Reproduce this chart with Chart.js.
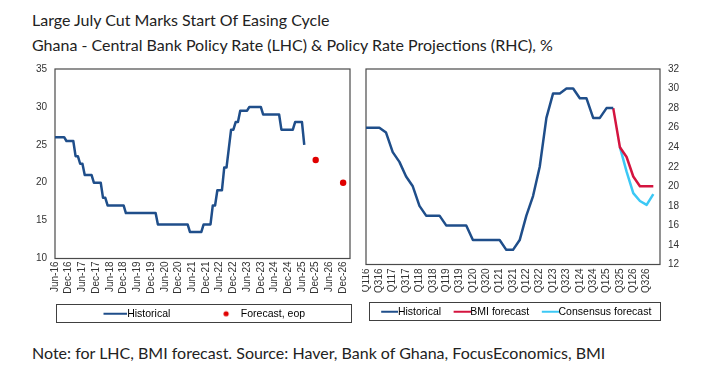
<!DOCTYPE html>
<html>
<head>
<meta charset="utf-8">
<script src="https://cdn.jsdelivr.net/npm/chart.js@4"></script>
<style>
  body { margin: 0; background: #fff; width: 728px; height: 378px; overflow: hidden; position: relative; font-family: Lato, "Open Sans", sans-serif; }
  .txt { position: absolute; left: 32px; font-size: 16px; color: #222; white-space: nowrap; line-height: 20px; }
  #title { top: 10px; }
  #subtitle { top: 35px; }
  #note { top: 343px; }
  .box { position: absolute; top: 55px; }
  #leftBox { left: 20px; width: 340px; height: 274px; }
  #rightBox { left: 362px; width: 366px; height: 272px; }
</style>
</head>
<body>
<div class="txt" id="title">Large July Cut Marks Start Of Easing Cycle</div>
<div class="txt" id="subtitle">Ghana - Central Bank Policy Rate (LHC) &amp; Policy Rate Projections (RHC), %</div>
<div class="box" id="leftBox"><canvas id="leftChart"></canvas></div>
<div class="box" id="rightBox"><canvas id="rightChart"></canvas></div>
<div class="txt" id="note">Note: for LHC, BMI forecast. Source: Haver, Bank of Ghana, FocusEconomics, BMI</div>

<script>
// ---- 왼쪽: 월별 정책금리 (Jun-16 ~ Mar-27 축)
const MONTHS = ['Jan','Feb','Mar','Apr','May','Jun','Jul','Aug','Sep','Oct','Nov','Dec'];
const monthLabels = [];
for (let k = 0; k < 130; k++) {
    const m = (5 + k) % 12;
    const y = 16 + Math.floor((5 + k) / 12);
    monthLabels.push(MONTHS[m] + '-' + y);
}

// Jun-16 ~ Jul-25 월말 기준금리
const historicalMonthly = [
    26, 26, 26, 26, 26,
    25.5, 25.5, 25.5, 25.5,
    23.5, 23.5,
    22.5, 22.5,
    21, 21, 21, 21,
    20, 20, 20, 20,
    18, 18,
    17, 17, 17, 17, 17, 17, 17, 17,
    16, 16, 16, 16, 16, 16, 16, 16, 16, 16, 16, 16, 16, 16,
    14.5, 14.5, 14.5, 14.5, 14.5, 14.5, 14.5, 14.5, 14.5, 14.5, 14.5, 14.5, 14.5, 14.5,
    13.5, 13.5, 13.5, 13.5, 13.5, 13.5,
    14.5, 14.5, 14.5, 14.5,
    17, 17,
    19, 19, 19,
    22, 22,
    24.5,
    27, 27,
    28, 28,
    29.5, 29.5, 29.5, 29.5,
    30, 30, 30, 30, 30, 30,
    29, 29, 29, 29, 29, 29, 29, 29,
    27, 27, 27, 27, 27, 27,
    28, 28, 28, 28,
    25
];
const forecastDates = ['Dec-25', 'Dec-26'];
const forecastEop = [23, 20];

// ---- 오른쪽: 분기별 (Q116 ~ Q127 축)
const quarterLabels = [];
for (let k = 0; k < 45; k++) {
    quarterLabels.push('Q' + (k % 4 + 1) + (16 + Math.floor(k / 4)));
}
const historicalQuarterly = [
    26, 26, 26, 25.5,
    23.5, 22.5, 21, 20,
    18, 17, 17, 17,
    16, 16, 16, 16,
    14.5, 14.5, 14.5, 14.5,
    14.5, 13.5, 13.5, 14.5,
    17, 19, 22, 27,
    29.5, 29.5, 30, 30,
    29, 29, 27, 27,
    28, 28
];
const bmiQuarters = ['Q225', 'Q325', 'Q425', 'Q126', 'Q226', 'Q326', 'Q426'];
const bmiForecast = [28, 24, 23, 21, 20, 20, 20];
const consensusQuarters = ['Q325', 'Q425', 'Q126', 'Q226', 'Q326', 'Q426'];
const consensusForecast = [24, 21.5, 19.3, 18.5, 18.1, 19.2];

// 색상
const NAVY = '#1f4e8a';
const RED_LINE = '#d4143f';
const LIGHT_BLUE = '#3cc8f5';
const DOT_RED = '#e00000';

Chart.defaults.font.family = '"Liberation Sans", Arial, sans-serif';
Chart.defaults.color = '#333';

/**
 * 범례 기호용 작은 캔버스 (선 / 점)
 */
function lineSymbol(color, half, len) {
    const c = document.createElement('canvas');
    c.width = Math.round(half * 2);
    c.height = 4;
    const g = c.getContext('2d');
    g.strokeStyle = color;
    g.lineWidth = 2;
    g.beginPath();
    g.moveTo(c.width - len, 2);
    g.lineTo(c.width, 2);
    g.stroke();
    return c;
}
function dotSymbol(color, half, fromText) {
    const c = document.createElement('canvas');
    c.width = Math.round(half * 2);
    c.height = 8;
    const g = c.getContext('2d');
    g.fillStyle = color;
    g.beginPath();
    g.arc(c.width - fromText, 4, 2.6, 0, Math.PI * 2);
    g.fill();
    return c;
}
function blankSymbol(half) {
    const c = document.createElement('canvas');
    c.width = Math.round(half * 2);
    c.height = 2;
    return c;
}

// 플롯 테두리 + 범례 테두리
const framePlugin = {
    id: 'frames',
    beforeDatasetsDraw(chart) {
        const { ctx, chartArea: a } = chart;
        ctx.save();
        ctx.strokeStyle = '#4a4a4a';
        ctx.lineWidth = 1.2;
        ctx.strokeRect(a.left, a.top, a.right - a.left, a.bottom - a.top);
        ctx.restore();
    },
    afterDraw(chart, args, opts) {
        const { ctx, chartArea: a } = chart;
        const hb = chart.legend.legendHitBoxes[0];
        if (!hb) return;
        const cy = hb.top + hb.height / 2;
        ctx.save();
        ctx.strokeStyle = '#404040';
        ctx.lineWidth = 1;
        const x0 = Math.round(a.left + opts.dl) + 0.5;
        const x1 = Math.round(a.right + opts.dr) + 0.5;
        const y0 = Math.round(cy - 9.5) + 0.5;
        ctx.strokeRect(x0, y0, x1 - x0, 18);
        ctx.restore();
    }
};

const tickFont = { size: 10 };
const legendFont = { size: 10.5 };

// ---- 왼쪽 차트
const LH = 22 / 2 + 10.5 / 2;
const leftLegend = [
    { text: 'Historical', pointStyle: lineSymbol(NAVY, LH, 24) },
    { text: '', pointStyle: blankSymbol(LH) },
    { text: 'Forecast, eop', pointStyle: dotSymbol(DOT_RED, LH, 15) }
];

new Chart(document.getElementById('leftChart'), {
    type: 'line',
    data: {
        labels: monthLabels,
        datasets: [
            {
                label: 'Historical',
                data: historicalMonthly,
                borderColor: NAVY,
                borderWidth: 2.5,
                pointRadius: 0,
                tension: 0,
                borderJoinStyle: 'round',
                fill: false
            },
            {
                label: 'Forecast, eop',
                data: forecastDates.map((d, i) => ({ x: d, y: forecastEop[i] })),
                showLine: false,
                pointRadius: 3.2,
                pointBackgroundColor: DOT_RED,
                pointBorderWidth: 0,
                borderColor: DOT_RED
            }
        ]
    },
    options: {
        responsive: true,
        maintainAspectRatio: false,
        animation: false,
        layout: { autoPadding: false, padding: { top: 8, left: 0, right: 10, bottom: 0 } },
        scales: {
            x: {
                grid: { display: false, drawTicks: false },
                border: { display: false },
                ticks: {
                    font: tickFont,
                    autoSkip: false,
                    minRotation: 90,
                    maxRotation: 90,
                    padding: 3,
                    callback: (v, i) => (i % 6 === 0 && i <= 126) ? monthLabels[i] : null
                },
                afterFit: (s) => { s.height = 42; }
            },
            y: {
                min: 10,
                max: 35,
                grid: { display: false, drawTicks: false },
                border: { display: false },
                ticks: { font: tickFont, stepSize: 5, padding: 8 },
                afterFit: (s) => { s.width = 35; }
            }
        },
        plugins: {
            frames: { dl: 1, dr: 1 },
            tooltip: { enabled: false },
            legend: {
                position: 'bottom',
                fullSize: false,
                labels: {
                    font: legendFont,
                    color: '#222',
                    usePointStyle: true,
                    pointStyleWidth: 22,
                    padding: 8,
                    generateLabels: () => leftLegend.map(it => ({
                        text: it.text,
                        pointStyle: it.pointStyle,
                        fillStyle: 'transparent',
                        strokeStyle: 'transparent',
                        lineWidth: 0,
                        hidden: false
                    }))
                }
            }
        }
    },
    plugins: [framePlugin]
});

// ---- 오른쪽 차트
const RH = 18 / 2 + 10.5 / 2;
const rightLegend = [
    { text: 'Historical', pointStyle: lineSymbol(NAVY, RH, 17) },
    { text: 'BMI forecast', pointStyle: lineSymbol(RED_LINE, RH, 17) },
    { text: 'Consensus forecast', pointStyle: lineSymbol(LIGHT_BLUE, RH, 17) }
];

new Chart(document.getElementById('rightChart'), {
    type: 'line',
    data: {
        labels: quarterLabels,
        datasets: [
            {
                label: 'Historical',
                data: historicalQuarterly,
                borderColor: NAVY,
                borderWidth: 2.5,
                pointRadius: 0,
                tension: 0,
                borderJoinStyle: 'round'
            },
            {
                label: 'BMI forecast',
                data: bmiQuarters.map((q, i) => ({ x: q, y: bmiForecast[i] })),
                borderColor: RED_LINE,
                borderWidth: 2.5,
                pointRadius: 0,
                tension: 0,
                borderJoinStyle: 'round'
            },
            {
                label: 'Consensus forecast',
                data: consensusQuarters.map((q, i) => ({ x: q, y: consensusForecast[i] })),
                borderColor: LIGHT_BLUE,
                borderWidth: 2.5,
                pointRadius: 0,
                tension: 0,
                borderJoinStyle: 'round'
            }
        ]
    },
    options: {
        responsive: true,
        maintainAspectRatio: false,
        animation: false,
        layout: { autoPadding: false, padding: { top: 8, left: 2, right: 38, bottom: 0 } },
        scales: {
            x: {
                grid: { display: false, drawTicks: false },
                border: { display: false },
                ticks: {
                    font: tickFont,
                    autoSkip: false,
                    minRotation: 90,
                    maxRotation: 90,
                    padding: 4,
                    callback: (v, i) => (i % 2 === 0 && i <= 42) ? quarterLabels[i] : null
                },
                afterFit: (s) => { s.height = 36; }
            },
            y: {
                position: 'right',
                min: 12,
                max: 32,
                grid: { display: false, drawTicks: false },
                border: { display: false },
                ticks: { font: tickFont, stepSize: 2, padding: 8 },
                afterFit: (s) => { s.width = 30; }
            }
        },
        plugins: {
            frames: { dl: 3, dr: 0 },
            tooltip: { enabled: false },
            legend: {
                position: 'bottom',
                fullSize: false,
                labels: {
                    font: legendFont,
                    color: '#222',
                    usePointStyle: true,
                    pointStyleWidth: 18,
                    padding: 6,
                    generateLabels: () => rightLegend.map(it => ({
                        text: it.text,
                        pointStyle: it.pointStyle,
                        fillStyle: 'transparent',
                        strokeStyle: 'transparent',
                        lineWidth: 0,
                        hidden: false
                    }))
                }
            }
        }
    },
    plugins: [framePlugin]
});
</script>
</body>
</html>
